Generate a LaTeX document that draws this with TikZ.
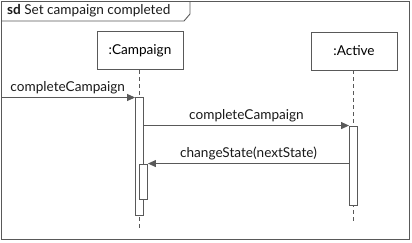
\documentclass[tikz,border=0pt]{standalone}
\usepackage{fontspec}
\setmainfont{Lato}
\usetikzlibrary{arrows.meta}
\begin{document}
\begin{tikzpicture}[x=1pt,y=-1pt,
  line/.style={draw=black!65,line width=0.9pt},
  lifebox/.style={line,fill=white,minimum width=86pt,minimum height=38pt,inner sep=0pt,font=\fontsize{13.6}{16}\selectfont},
  lifeline/.style={draw=black!65,line width=0.8pt,dash pattern=on 4pt off 3pt},
  actbar/.style={line,fill=white,minimum width=8pt,inner sep=0pt},
  msg/.style={line,-{Triangle[length=8pt,width=7pt]}},
  lbl/.style={font=\fontsize{13.6}{16}\selectfont,inner sep=1pt,text=black!90}]
\useasboundingbox (0,0) rectangle (412,242);
% frame and title tab
\draw[line] (1,1) rectangle (409.5,239.5);
\draw[line] (1,21) -- (184,21) -- (190,14) -- (190,1);
\node[lbl,anchor=west] (title) at (6,11) {\textbf{sd} Set campaign completed};
% lifelines
\node[lifebox] (camp) at (140,50.5) {:Campaign};
\node[lifebox] (act) at (354,51) {:Active};
\coordinate (campend) at (139.5,228);
\coordinate (actend) at (353.5,224);
\draw[lifeline] (camp.south -| campend) -- (campend);
\draw[lifeline] (act.south -| actend) -- (actend);
% activations
\node[actbar,minimum height=118pt] (campact) at (139.5,156) {};
\node[actbar,minimum height=35pt] (campnest) at (143.5,181.5) {};
\node[actbar,minimum height=79pt] (actact) at (353.5,165.5) {};
% messages
\coordinate (found) at (1,97.5);
\draw[msg] (found) -- (found -| campact.west) node[lbl,pos=0.06,above=2pt,anchor=south west] (m1) {completeCampaign};
\draw[msg] (campact.east |- actact.north) -- (actact.north west) node[lbl,midway,above=2pt] (m2) {completeCampaign};
\draw[msg] (actact.west |- campnest.north) -- (campnest.north east) node[lbl,midway,above=2pt] (m3) {changeState(nextState)};
\end{tikzpicture}
\end{document}
